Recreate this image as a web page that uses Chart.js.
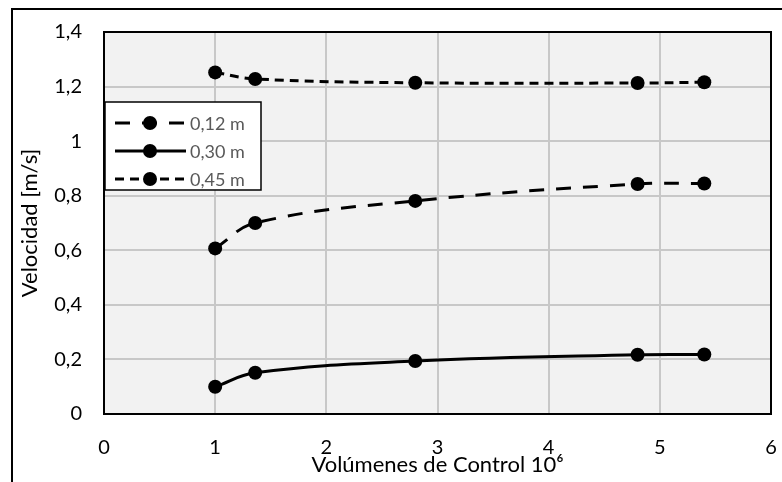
<!DOCTYPE html>
<html>
<head>
<meta charset="utf-8">
<script src="https://cdn.jsdelivr.net/npm/chart.js@4"></script>
<style>
html, body { margin: 0; padding: 0; background: #fff; }
#wrap { width: 782px; height: 482px; }
</style>
</head>
<body>
<div id="wrap"><canvas id="chart" width="782" height="482"></canvas></div>
<script>
// datos
var volumenes = [1, 1.36, 2.8, 4.8, 5.4];
var serie012 = [0.607, 0.700, 0.781, 0.843, 0.845];
var serie030 = [0.100, 0.151, 0.194, 0.217, 0.218];
var serie045 = [1.252, 1.228, 1.214, 1.213, 1.216];
var etiquetas = ["0,12 m", "0,30 m", "0,45 m"];

var fuente = "Lato, 'Liberation Sans', sans-serif";

function puntos(valores) {
  return volumenes.map(function (x, i) {
    return { x: x, y: valores[i] };
  });
}

function serie(label, valores, dash) {
  return {
    label: label,
    data: puntos(valores),
    borderColor: "#000",
    backgroundColor: "#000",
    borderWidth: 3,
    borderDash: dash,
    borderCapStyle: "butt",
    pointRadius: 7,
    pointHoverRadius: 7,
    pointBackgroundColor: "#000",
    pointBorderWidth: 0,
    tension: 0.4,
  };
}

var fondoPlot = {
  id: "fondoPlot",
  beforeDraw: function (chart) {
    var a = chart.chartArea;
    var ctx = chart.ctx;
    ctx.save();
    ctx.fillStyle = "#f2f2f2";
    ctx.fillRect(a.left, a.top, a.right - a.left, a.bottom - a.top);
    ctx.restore();
  },
  afterDraw: function (chart) {
    var a = chart.chartArea;
    var ctx = chart.ctx;
    ctx.save();
    // borde del area de trazado
    ctx.strokeStyle = "#000";
    ctx.lineWidth = 2;
    ctx.strokeRect(a.left, a.top, a.right - a.left, a.bottom - a.top);
    // marco exterior
    ctx.beginPath();
    ctx.moveTo(12, 482);
    ctx.lineTo(12, 9);
    ctx.lineTo(782, 9);
    ctx.stroke();

    // leyenda dentro del grafico
    var lx = 105, ly = 102, lw = 156, lh = 88;
    ctx.fillStyle = "#fff";
    ctx.fillRect(lx, ly, lw, lh);
    ctx.lineWidth = 1.5;
    ctx.strokeRect(lx, ly, lw, lh);
    chart.data.datasets.forEach(function (ds, i) {
      var y = 123 + i * 28;
      ctx.beginPath();
      ctx.setLineDash(ds.borderDash || []);
      ctx.lineWidth = 3;
      ctx.moveTo(115, y);
      ctx.lineTo(186, y);
      ctx.stroke();
      ctx.setLineDash([]);
      ctx.beginPath();
      ctx.arc(150, y, 7, 0, Math.PI * 2);
      ctx.fillStyle = "#000";
      ctx.fill();
      ctx.fillStyle = "#595959";
      ctx.font = "18px " + fuente;
      ctx.textBaseline = "middle";
      ctx.fillText(ds.label, 190, y + 1);
    });
    ctx.restore();
  },
};

var ctx = document.getElementById("chart").getContext("2d");
var grafico = new Chart(ctx, {
  type: "line",
  data: {
    datasets: [
      serie(etiquetas[0], serie012, [15, 12]),
      serie(etiquetas[1], serie030, []),
      serie(etiquetas[2], serie045, [9, 6]),
    ],
  },
  options: {
    responsive: false,
    animation: false,
    devicePixelRatio: 1,
    layout: { padding: { left: 0, top: 32, right: 11, bottom: 0 } },
    plugins: {
      legend: { display: false },
      tooltip: { enabled: false },
    },
    scales: {
      x: {
        type: "linear",
        min: 0,
        max: 6,
        afterFit: function (s) {
          s.height = 68;
          s.paddingLeft = 0;
          s.paddingRight = 0;
        },
        border: { display: false },
        grid: { color: "#c8c8c8", lineWidth: 2, drawTicks: false },
        ticks: {
          stepSize: 1,
          padding: 22,
          color: "#000",
          font: { family: fuente, size: 20 },
        },
        title: {
          display: true,
          text: "Volúmenes de Control 10⁶",
          color: "#000",
          font: { family: fuente, size: 22 },
          padding: { top: 0, bottom: 4 },
        },
      },
      y: {
        min: 0,
        max: 1.4,
        afterFit: function (s) {
          s.width = 104;
          s.paddingTop = 0;
          s.paddingBottom = 0;
        },
        border: { display: false },
        grid: { color: "#c8c8c8", lineWidth: 2, drawTicks: false },
        ticks: {
          stepSize: 0.2,
          padding: 22,
          color: "#000",
          font: { family: fuente, size: 20 },
          callback: function (v) {
            return String(Math.round(v * 10) / 10).replace(".", ",");
          },
        },
        title: {
          display: true,
          text: "Velocidad [m/s]",
          color: "#000",
          font: { family: fuente, size: 22 },
          padding: { top: 17, bottom: 0 },
        },
      },
    },
  },
  plugins: [fondoPlot],
});
</script>
</body>
</html>
